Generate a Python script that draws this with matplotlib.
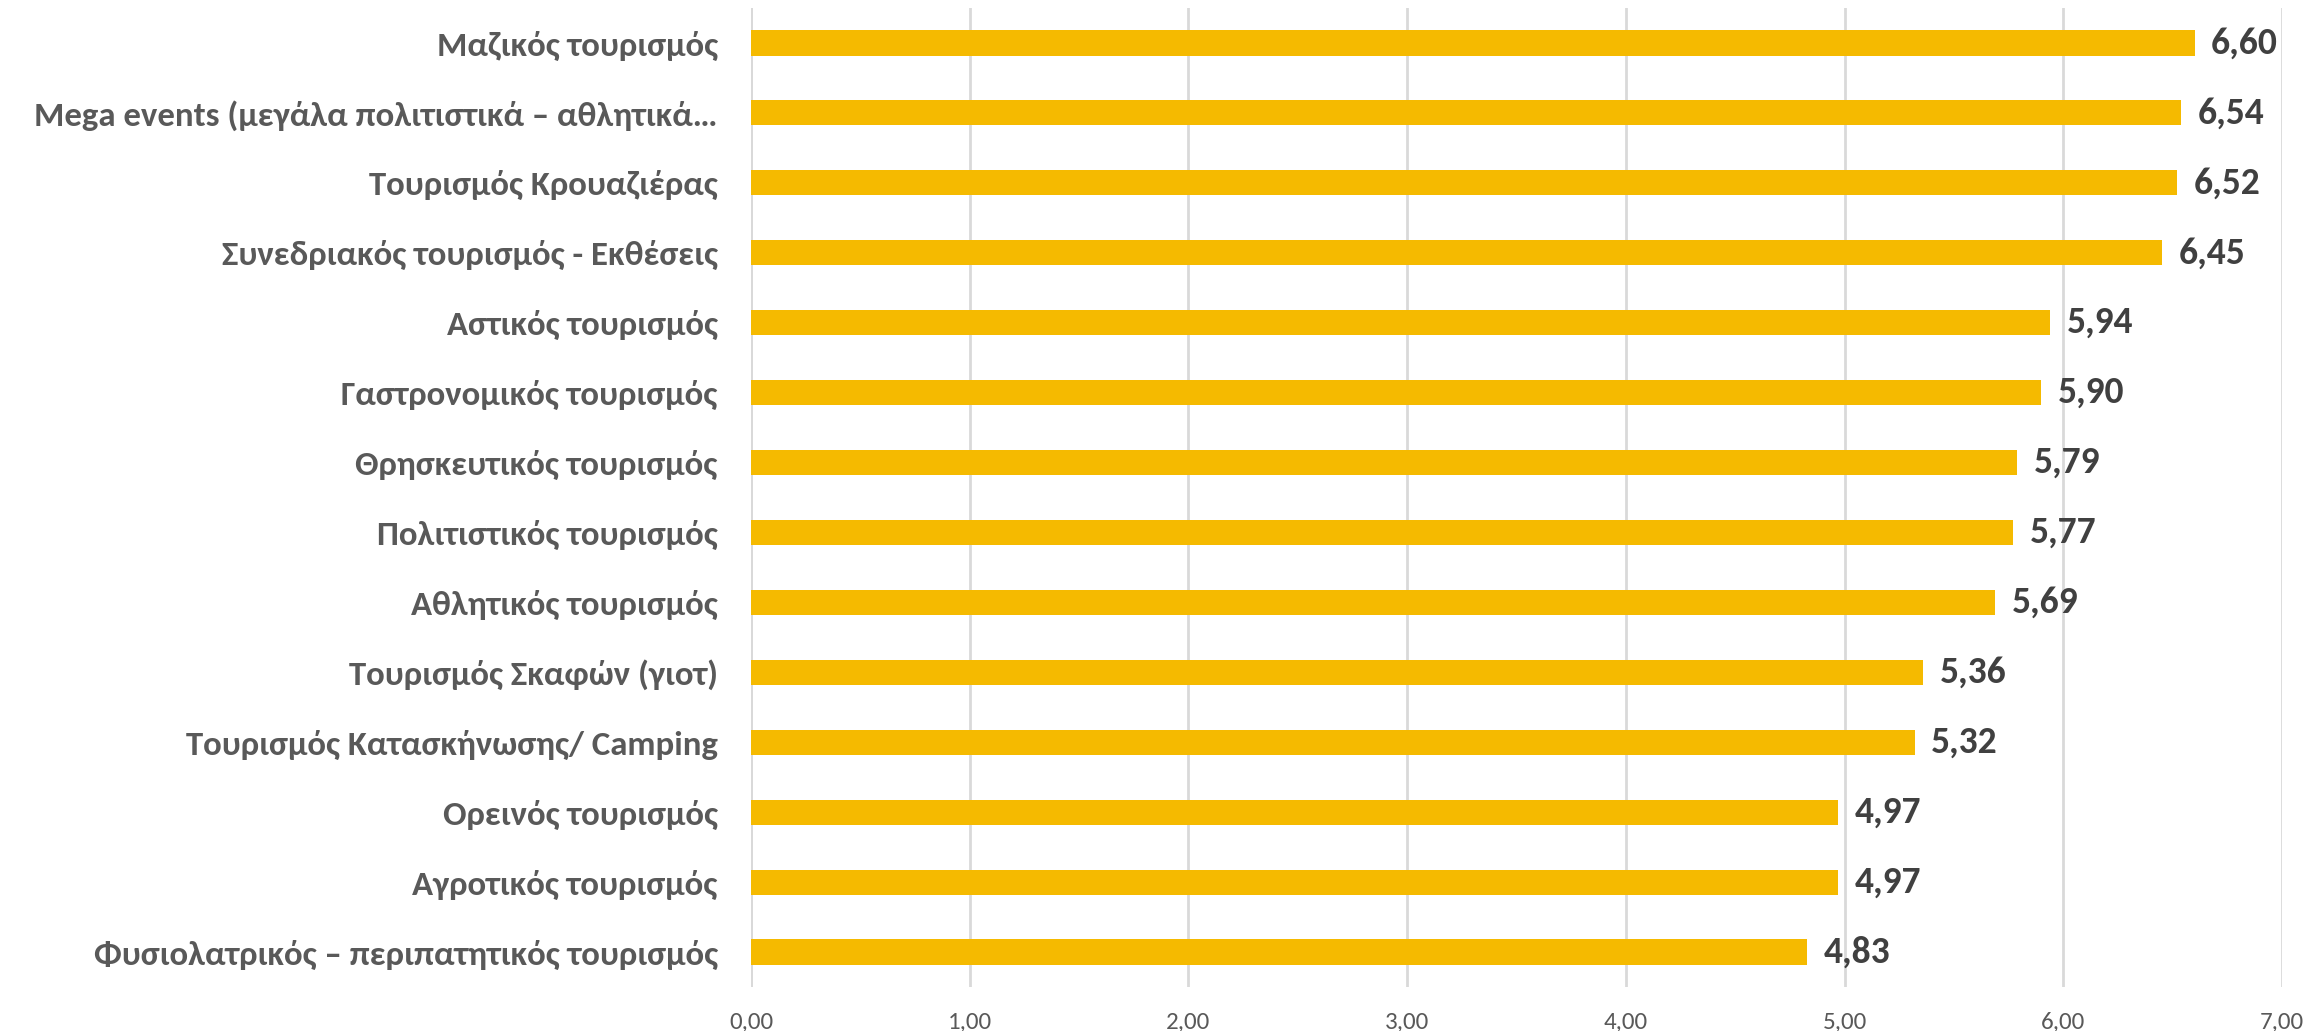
import matplotlib
matplotlib.use("Agg")
import matplotlib.pyplot as plt
from matplotlib.ticker import FuncFormatter

categories = [
    "Μαζικός τουρισμός",
    "Mega events (μεγάλα πολιτιστικά – αθλητικά…",
    "Τουρισμός Κρουαζιέρας",
    "Συνεδριακός τουρισμός - Εκθέσεις",
    "Αστικός τουρισμός",
    "Γαστρονομικός τουρισμός",
    "Θρησκευτικός τουρισμός",
    "Πολιτιστικός τουρισμός",
    "Αθλητικός τουρισμός",
    "Τουρισμός Σκαφών (γιοτ)",
    "Τουρισμός Κατασκήνωσης/ Camping",
    "Ορεινός τουρισμός",
    "Αγροτικός τουρισμός",
    "Φυσιολατρικός – περιπατητικός τουρισμός",
]
values = [6.60, 6.54, 6.52, 6.45, 5.94, 5.90, 5.79, 5.77, 5.69, 5.36, 5.32, 4.97, 4.97, 4.83]
x_ticks = [0, 1, 2, 3, 4, 5, 6, 7]

fam = ['Carlito', 'Liberation Sans Narrow', 'Open Sans', 'DejaVu Sans']
plt.rcParams['font.family'] = fam

W, H = 2315, 1031
fig = plt.figure(figsize=(W / 100, H / 100), dpi=100)
ax = fig.add_axes([751 / W, 1 - 987 / H, (2282 - 751) / W, (987 - 8) / H])

y = list(range(len(categories)))
ax.barh(y, values, height=0.36, color="#F5BA00", zorder=3)
ax.set_ylim(len(categories) - 0.5, -0.5)
ax.set_xlim(0, 7)
ax.set_xticks(x_ticks)
ax.xaxis.set_major_formatter(FuncFormatter(lambda v, p: f"{v:.2f}".replace(".", ",")))
ax.grid(axis="x", color="#D9D9D9", linewidth=2, zorder=0)
for s in ax.spines.values():
    s.set_visible(False)
ax.axvline(0, color="#D9D9D9", linewidth=2, zorder=1)

ax.set_yticks(y)
ax.set_yticklabels(categories, fontsize=25, fontweight="bold", color="#595959")
ax.tick_params(axis="y", length=0, pad=24)
ax.tick_params(axis="x", length=0, pad=18, labelsize=18, labelcolor="#595959")

for yi, v in zip(y, values):
    ax.annotate(f"{v:.2f}".replace(".", ","), xy=(v, yi), xytext=(12, 0),
                textcoords="offset points", va="center", ha="left",
                fontsize=27, fontweight="bold", color="#404040")

fig.savefig("out.png", dpi=100)
